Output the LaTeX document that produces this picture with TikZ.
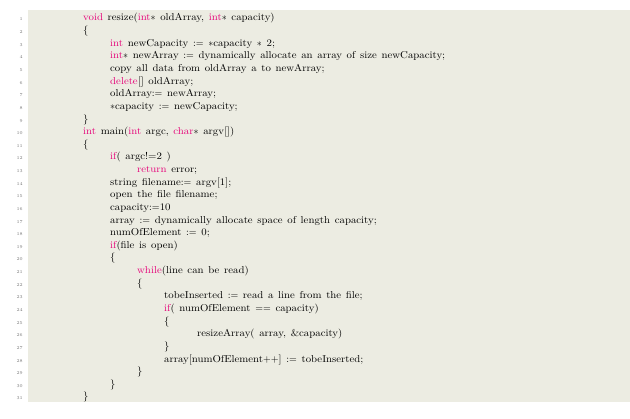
\documentclass[tikz,border=0pt]{standalone}
\usepackage{fontspec}
\newfontfamily\codefont[FakeStretch=1.08,WordSpace=1.3]{Latin Modern Roman}
\definecolor{bgc}{RGB}{236,236,226}
\definecolor{kw}{RGB}{230,0,120}
\definecolor{numc}{RGB}{120,120,120}
\newcommand{\kw}[1]{\textcolor{kw}{#1}}
\newcommand{\st}{$\ast$}
\newcommand{\asg}{$:=$}
\begin{document}
\begin{tikzpicture}[x=1pt,y=-1pt,
  codeline/.style={anchor=base west,inner sep=0pt,font=\codefont\fontsize{10}{12}\selectfont},
  lnum/.style={anchor=base east,inner sep=0pt,font=\fontsize{4.5}{5}\selectfont,text=numc}]
\useasboundingbox (0,0) rectangle (630,419);
\fill[bgc] (28,10) rectangle (630,402);
\foreach \n in {1,...,31} {\node[lnum] (n\n) at (23,{21+(\n-1)*12.63}) {\n};}
\newcommand{\cl}[3]{\node[codeline] (c#1) at (#2,{21+(#1-1)*12.63}) {#3};}
\cl{1}{83}{\kw{void} resize(\kw{int}\st{} oldArray, \kw{int}\st{} capacity)}
\cl{2}{83}{\{}
\cl{3}{110}{\kw{int} newCapacity \asg{} \st capacity \st{} 2;}
\cl{4}{110}{\kw{int}\st{} newArray \asg{} dynamically allocate an array of size newCapacity;}
\cl{5}{110}{copy all data from oldArray a to newArray;}
\cl{6}{110}{\kw{delete}[] oldArray;}
\cl{7}{110}{oldArray\asg{} newArray;}
\cl{8}{110}{\st capacity \asg{} newCapacity;}
\cl{9}{83}{\}}
\cl{10}{83}{\kw{int} main(\kw{int} argc, \kw{char}\st{} argv[])}
\cl{11}{83}{\{}
\cl{12}{110}{\kw{if}( argc!=2 )}
\cl{13}{137}{\kw{return} error;}
\cl{14}{110}{string filename\asg{} argv[1];}
\cl{15}{110}{open the file filename;}
\cl{16}{110}{capacity\asg10}
\cl{17}{110}{array \asg{} dynamically allocate space of length capacity;}
\cl{18}{110}{numOfElement \asg{} 0;}
\cl{19}{110}{\kw{if}(file is open)}
\cl{20}{110}{\{}
\cl{21}{137}{\kw{while}(line can be read)}
\cl{22}{137}{\{}
\cl{23}{164}{tobeInserted \asg{} read a line from the file;}
\cl{24}{164}{\kw{if}( numOfElement $==$ capacity)}
\cl{25}{164}{\{}
\cl{26}{197}{resizeArray( array, \&capacity)}
\cl{27}{164}{\}}
\cl{28}{164}{array[numOfElement$++$] \asg{} tobeInserted;}
\cl{29}{137}{\}}
\cl{30}{110}{\}}
\cl{31}{83}{\}}
\end{tikzpicture}
\end{document}
